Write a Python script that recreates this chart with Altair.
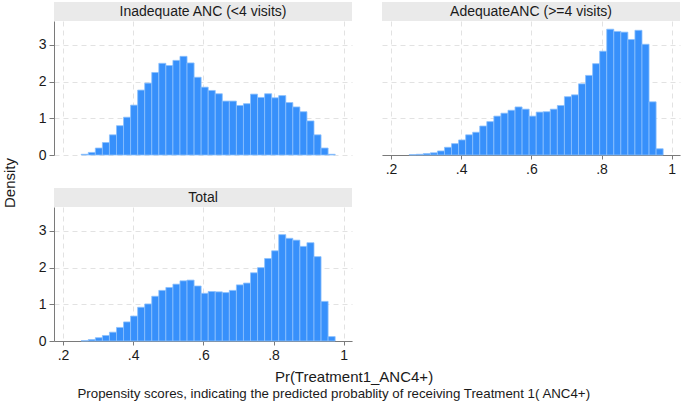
import altair as alt
import pandas as pd

# ---- data ----
BIN_START = 0.252
BIN_WIDTH = 0.0201
N_BINS = 36

panel_titles = ["Inadequate ANC (<4 visits)", "AdequateANC (>=4 visits)", "Total"]

inadequate = [0.02, 0.07, 0.19, 0.34, 0.55, 0.80, 1.03, 1.36, 1.77, 1.96,
              2.25, 2.50, 2.44, 2.58, 2.69, 2.51, 2.12, 1.85, 1.76, 1.67,
              1.47, 1.47, 1.35, 1.40, 1.66, 1.57, 1.67, 1.56, 1.62, 1.43,
              1.31, 1.18, 0.93, 0.55, 0.19, 0.02]
adequate = [0.01, 0.02, 0.04, 0.06, 0.11, 0.21, 0.31, 0.41, 0.55, 0.62,
            0.79, 0.91, 1.06, 1.14, 1.22, 1.31, 1.25, 1.06, 1.17, 1.18,
            1.25, 1.35, 1.59, 1.64, 1.94, 2.17, 2.49, 2.83, 3.43, 3.37,
            3.35, 3.15, 3.40, 3.02, 1.45, 0.17]
total = [0.01, 0.04, 0.09, 0.15, 0.24, 0.37, 0.52, 0.68, 0.92, 1.01,
         1.22, 1.38, 1.46, 1.55, 1.64, 1.66, 1.50, 1.30, 1.35, 1.34,
         1.32, 1.38, 1.53, 1.58, 1.86, 2.00, 2.25, 2.46, 2.90, 2.80,
         2.75, 2.58, 2.68, 2.30, 1.08, 0.12]

x_ticks = [0.2, 0.4, 0.6, 0.8, 1.0]
y_ticks = [0, 1, 2, 3]
y_title = "Density"
x_title = "Pr(Treatment1_ANC4+)"
note = "Propensity scores, indicating the predicted probablity of receiving Treatment 1( ANC4+)"

# ---- styling ----
FONT = "Liberation Sans"
W, H = 298, 134
HDR = 19
XDOM = [0.1744, 1.0236]
YDOM = [0, 3.654]
BAR_FILL = "#3790fb"
BAR_STROKE = "#8cc0fd"
HEADER_FILL = "#eaeaea"
TEXT_COLOR = "#1a1a1a"

lo = [BIN_START + i * BIN_WIDTH for i in range(N_BINS)]
hi = [BIN_START + (i + 1) * BIN_WIDTH for i in range(N_BINS)]

X_LABEL_EXPR = "datum.value >= 1 ? '1' : substring(format(datum.value, '.1f'), 1)"


def panel(title, values, show_x, show_y, extras=()):
    df = pd.DataFrame({"lo": lo, "hi": hi, "density": values})
    if show_x:
        xaxis = alt.Axis(values=x_ticks, labelExpr=X_LABEL_EXPR, title=None,
                         grid=True, tickSize=4, labelPadding=3)
    else:
        xaxis = alt.Axis(values=x_ticks, labels=False, ticks=False,
                         domain=False, title=None, grid=True)
    if show_y:
        yaxis = alt.Axis(values=y_ticks, format="d", title=None, grid=True,
                         tickSize=5, labelPadding=3)
    else:
        yaxis = alt.Axis(values=y_ticks, labels=False, ticks=False,
                         domain=False, title=None, grid=True)
    bars = alt.Chart(df).mark_rect(
        fill=BAR_FILL, stroke=BAR_STROKE, strokeWidth=0.8
    ).encode(
        x=alt.X("lo:Q", scale=alt.Scale(domain=XDOM, nice=False, zero=False, padding=0), axis=xaxis),
        x2="hi:Q",
        y=alt.Y("density:Q", scale=alt.Scale(domain=YDOM, nice=False, padding=0), axis=yaxis),
        y2=alt.datum(0),
    )
    hdf = pd.DataFrame({"label": [title]})
    rect = alt.Chart(hdf).mark_rect(color=HEADER_FILL).encode(
        x=alt.value(0), x2=alt.value(W), y=alt.value(-HDR), y2=alt.value(0)
    )
    txt = alt.Chart(hdf).mark_text(
        font=FONT, fontSize=14, color=TEXT_COLOR, baseline="middle", align="center"
    ).encode(x=alt.value(W / 2), y=alt.value(-HDR / 2), text="label:N")
    return alt.layer(bars, rect, txt, *extras).properties(width=W, height=H)


ytitle_df = pd.DataFrame({"t": [y_title]})
ytitle = alt.Chart(ytitle_df).mark_text(
    font=FONT, fontSize=15, color=TEXT_COLOR, angle=270, align="center", baseline="middle"
).encode(x=alt.value(-44.5), y=alt.value(162), text="t:N")

xtitle_df = pd.DataFrame({"t": [x_title]})
xtitle = alt.Chart(xtitle_df).mark_text(
    font=FONT, fontSize=15, color=TEXT_COLOR, align="center", baseline="middle"
).encode(x=alt.value(300), y=alt.value(170), text="t:N")

note_df = pd.DataFrame({"t": [note]})
note_txt = alt.Chart(note_df).mark_text(
    font=FONT, fontSize=13.3, color=TEXT_COLOR, align="left", baseline="middle"
).encode(x=alt.value(23.5), y=alt.value(186.5), text="t:N")

tl = panel(panel_titles[0], inadequate, show_x=False, show_y=True, extras=(ytitle,))
tr = panel(panel_titles[1], adequate, show_x=True, show_y=False)
bl = panel(panel_titles[2], total, show_x=True, show_y=True, extras=(xtitle, note_txt))

chart = alt.concat(
    tl, tr, bl, columns=2, spacing={"row": 52, "column": 30}, bounds="flush"
).properties(
    padding={"left": 2, "top": 2, "right": 2, "bottom": 2},
    background="white",
).configure_view(
    stroke=None
).configure_axis(
    labelFont=FONT, labelFontSize=14, labelColor=TEXT_COLOR,
    domainColor="#7a7a7a", tickColor="#7a7a7a", domainWidth=1, tickWidth=1,
    gridColor="#e2e2e2", gridDash=[5, 4], gridWidth=1,
)

chart.save("out.html", embed_options={"renderer": "svg", "actions": False})
